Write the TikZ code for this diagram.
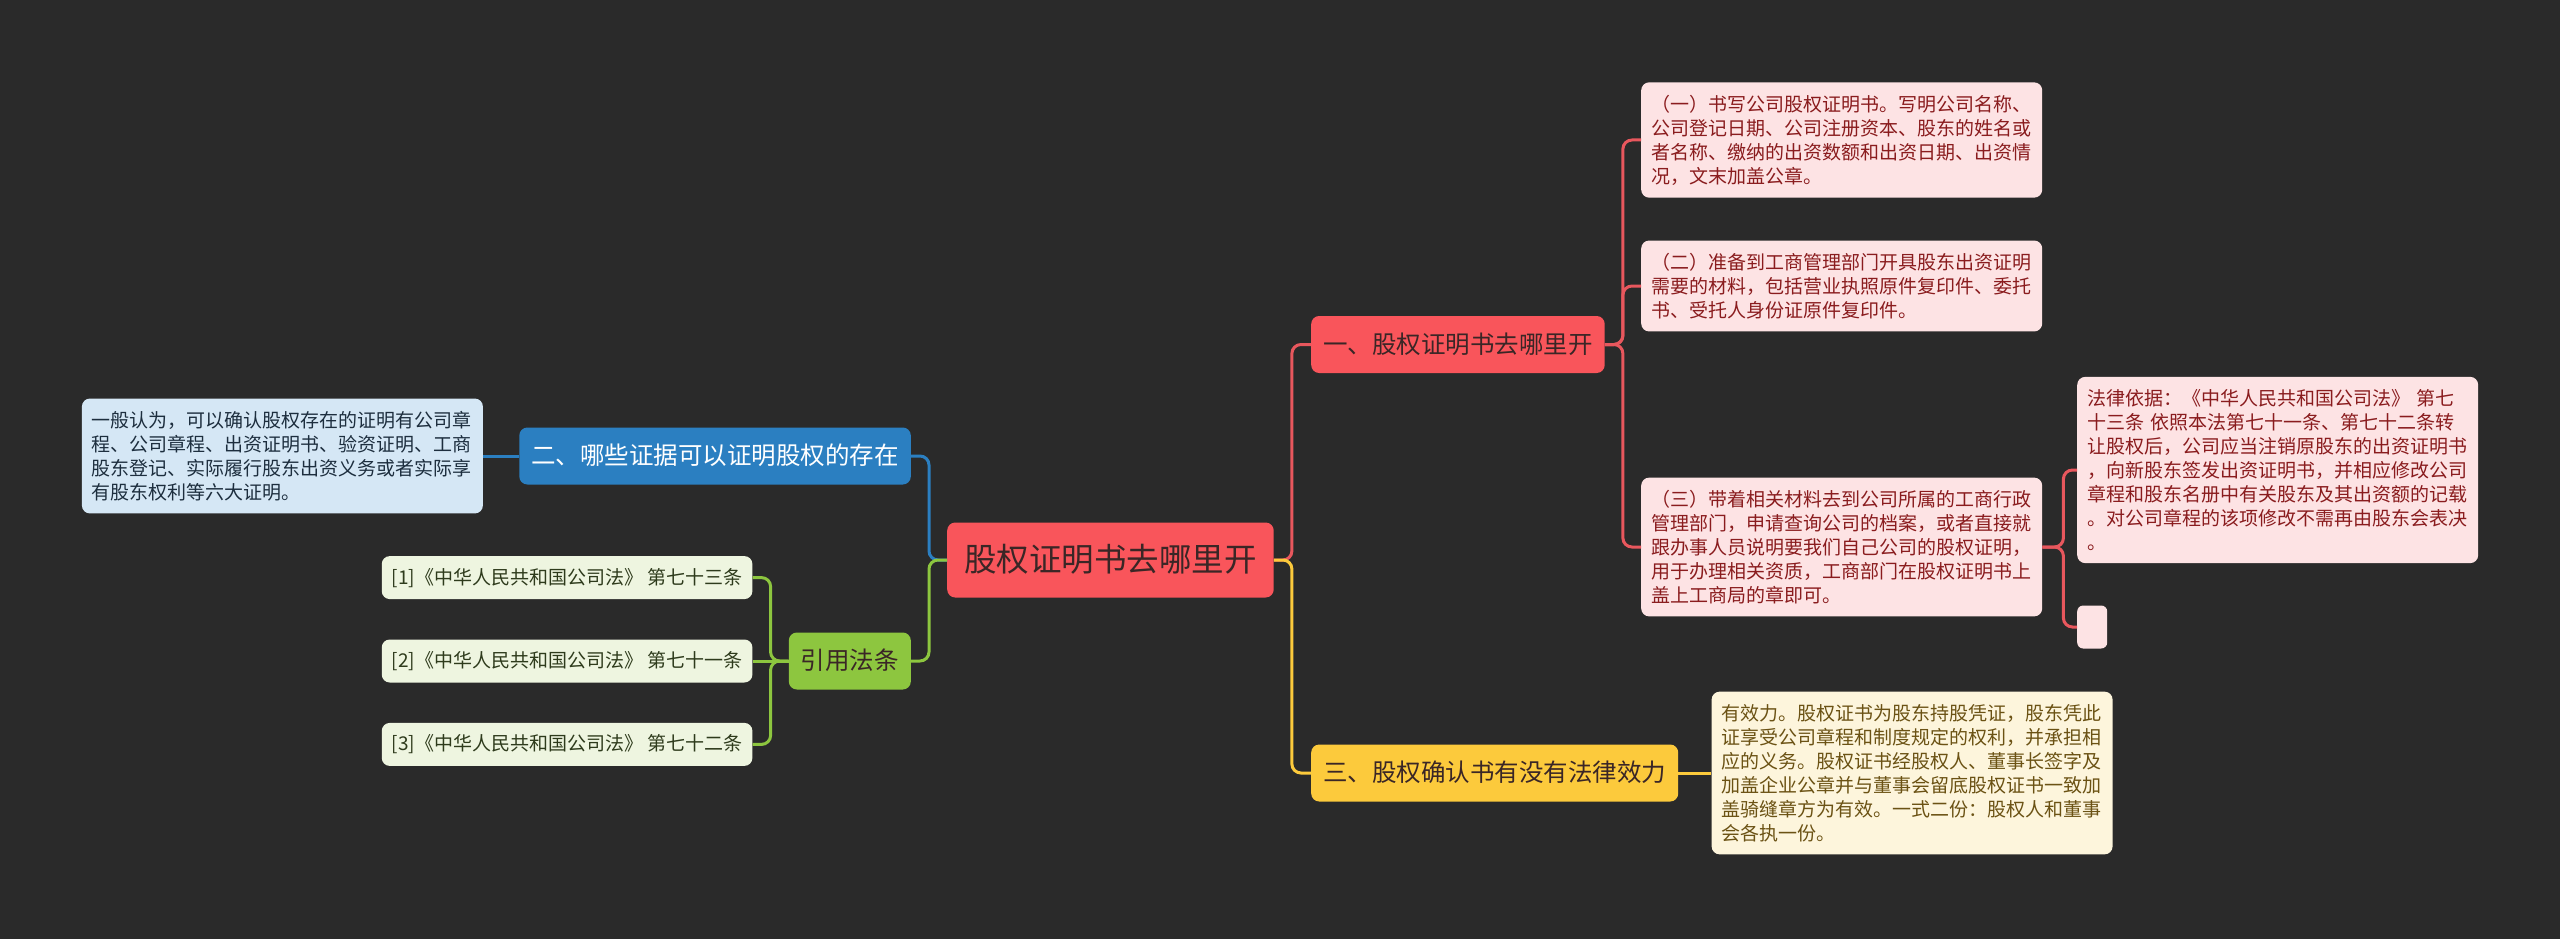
\documentclass[tikz,border=0pt]{standalone}
\usepackage{fontspec}
\setmainfont{Noto Sans CJK SC}
\usetikzlibrary{positioning}

\definecolor{bgdark}{HTML}{2A2A2A}
\definecolor{rootred}{HTML}{F9555B}
\definecolor{darktext}{HTML}{3A2626}
\definecolor{redline}{HTML}{E8575D}
\definecolor{pinkleaf}{HTML}{FDE3E4}
\definecolor{pinktext}{HTML}{8A1C1E}
\definecolor{bluetopic}{HTML}{2B7FC1}
\definecolor{blueleaf}{HTML}{D5E7F5}
\definecolor{bluetext}{HTML}{1D2E3E}
\definecolor{greentopic}{HTML}{8DC63F}
\definecolor{greenleaf}{HTML}{EEF5E0}
\definecolor{greentext}{HTML}{2E3B1C}
\definecolor{yellowtopic}{HTML}{FCCA3C}
\definecolor{yellowleaf}{HTML}{FDF5DC}
\definecolor{yellowtext}{HTML}{6B5214}

\begin{document}
\begin{tikzpicture}[x=1pt, y=-1pt, node distance=36pt,
    mapbox/.style={rounded corners=8pt, align=left},
    rootbox/.style={mapbox, fill=rootred, text=darktext, font=\fontsize{32.5}{38}\selectfont,
      inner xsep=17pt, inner ysep=21pt, text height=28pt, text depth=5pt},
    topicbox/.style={mapbox, font=\fontsize{24.5}{29}\selectfont,
      inner xsep=12pt, inner ysep=16pt, text height=21pt, text depth=4pt},
    notebox/.style={mapbox, font=\fontsize{19}{24}\selectfont,
      inner xsep=10pt, inner ysep=12.5pt, text width=381pt},
    lawbox/.style={mapbox, fill=greenleaf, text=greentext, font=\fontsize{19}{24}\selectfont,
      inner xsep=10pt, inner ysep=12pt, text height=16pt, text depth=3pt},
    link/.style={line width=3pt, rounded corners=9pt}]

  \useasboundingbox[fill=bgdark] (0,0) rectangle (2560,939);

  % centre and main topics
  \node[rootbox, anchor=west] (root) at (947,560) {股权证明书去哪里开};
  \node[topicbox, fill=rootred, text=darktext, anchor=west] (t1) at (1311,344.5) {一、股权证明书去哪里开};
  \node[topicbox, fill=bluetopic, text=white, anchor=east] (t2) at (911,456) {二、哪些证据可以证明股权的存在};
  \node[topicbox, fill=yellowtopic, text=darktext, anchor=west] (t3) at (1311,773) {三、股权确认书有没有法律效力};
  \node[topicbox, fill=greentopic, text=darktext, anchor=east] (laws) at (911,661) {引用法条};

  % first topic
  \node[notebox, fill=pinkleaf, text=pinktext, anchor=west] (s1) at (1641,140)
    {（一）书写公司股权证明书。写明公司名称、\\公司登记日期、公司注册资本、股东的姓名或\\者名称、缴纳的出资数额和出资日期、出资情\\况，文末加盖公章。};
  \node[notebox, fill=pinkleaf, text=pinktext, anchor=west] (s2) at (1641,286)
    {（二）准备到工商管理部门开具股东出资证明\\需要的材料，包括营业执照原件复印件、委托\\书、受托人身份证原件复印件。};
  \node[notebox, fill=pinkleaf, text=pinktext, anchor=west] (s3) at (1641,547)
    {（三）带着相关材料去到公司所属的工商行政\\管理部门，申请查询公司的档案，或者直接就\\跟办事人员说明要我们自己公司的股权证明，\\用于办理相关资质，工商部门在股权证明书上\\盖上工商局的章即可。};
  \node[notebox, fill=pinkleaf, text=pinktext, anchor=west] (basis) at (2077,470)
    {法律依据：《中华人民共和国公司法》 第七\\十三条 依照本法第七十一条、第七十二条转\\让股权后，公司应当注销原股东的出资证明书\\，向新股东签发出资证明书，并相应修改公司\\章程和股东名册中有关股东及其出资额的记载\\。对公司章程的该项修改不需再由股东会表决\\。};
  \node[mapbox, fill=pinkleaf, rounded corners=6pt, inner sep=0pt,
    minimum width=30pt, minimum height=43pt, anchor=west] (blank) at (2077,627) {};

  % second and third topic
  \node[notebox, fill=blueleaf, text=bluetext, left=of t2] (proof)
    {一般认为，可以确认股权存在的证明有公司章\\程、公司章程、出资证明书、验资证明、工商\\股东登记、实际履行股东出资义务或者实际享\\有股东权利等六大证明。};
  \node[notebox, fill=yellowleaf, text=yellowtext, right=33pt of t3] (valid)
    {有效力。股权证书为股东持股凭证，股东凭此\\证享受公司章程和制度规定的权利，并承担相\\应的义务。股权证书经股权人、董事长签字及\\加盖企业公章并与董事会留底股权证书一致加\\盖骑缝章方为有效。一式二份：股权人和董事\\会各执一份。};

  % cited articles
  \node[lawbox, left=of laws] (law2) {[2]《中华人民共和国公司法》 第七十一条};
  \node[lawbox, above=40pt of law2] (law1) {[1]《中华人民共和国公司法》 第七十三条};
  \node[lawbox, below=40pt of law2] (law3) {[3]《中华人民共和国公司法》 第七十二条};

  \draw[link, redline] (root.east) -- ++(18,0) |- (t1.west);
  \draw[link, yellowtopic] (root.east) -- ++(18,0) |- (t3.west);
  \draw[link, bluetopic] (root.west) -- ++(-18,0) |- (t2.east);
  \draw[link, greentopic] (root.west) -- ++(-18,0) |- (laws.east);

  \draw[link, redline] (t1.east) -- ++(18,0) |- (s1.west);
  \draw[link, redline] (t1.east) -- ++(18,0) |- (s2.west);
  \draw[link, redline] (t1.east) -- ++(18,0) |- (s3.west);
  \draw[link, redline] (s3.east) -- ++(21,0) |- (basis.west);
  \draw[link, redline] (s3.east) -- ++(21,0) |- (blank.west);

  \draw[link, bluetopic] (t2.west) -- (proof.east);
  \draw[link, yellowtopic] (t3.east) -- (valid.west);

  \draw[link, greentopic] (laws.west) -- ++(-18,0) |- (law1.east);
  \draw[link, greentopic] (laws.west) -- (law2.east);
  \draw[link, greentopic] (laws.west) -- ++(-18,0) |- (law3.east);
\end{tikzpicture}
\end{document}
